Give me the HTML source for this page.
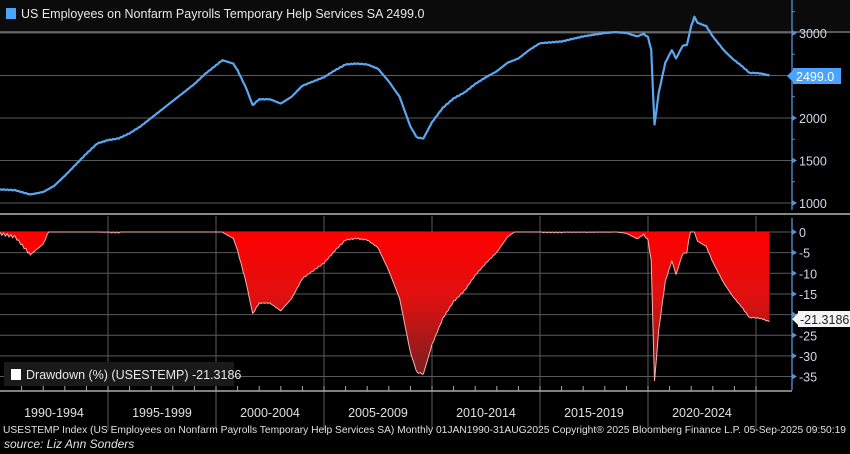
<!DOCTYPE html>
<html><head><meta charset="utf-8"><style>
html,body{margin:0;padding:0;background:#000;width:850px;height:454px;overflow:hidden;font-family:"Liberation Sans",sans-serif}
svg{position:absolute;left:0;top:0}
</style></head><body>
<svg id="s" width="850" height="454" xmlns="http://www.w3.org/2000/svg">
<defs>
<linearGradient id="rg" x1="0" y1="232" x2="0" y2="376" gradientUnits="userSpaceOnUse">
<stop offset="0" stop-color="#ff0000"/><stop offset="0.45" stop-color="#e01010"/><stop offset="1" stop-color="#7a2020"/>
</linearGradient>
</defs>
<rect x="0" y="0" width="850" height="31" fill="#0b0b0b"/>
<rect x="6" y="8" width="10" height="11" fill="#4aa3ff"/>
<text x="21" y="18" fill="#e8e8e8" font-size="12.5">US Employees on Nonfarm Payrolls Temporary Help Services SA 2499.0</text>
<line x1="0" y1="32" x2="850" y2="32" stroke="#777" stroke-width="1.5"/>
<g id="grid" stroke="#5a5a5a" stroke-width="1"></g>
<g id="data"></g>
<line x1="0" y1="214" x2="850" y2="214" stroke="#888" stroke-width="2"/>
<line x1="792" y1="0" x2="792" y2="210" stroke="#5b8fd6" stroke-width="1.3"/>
<line x1="792" y1="218" x2="792" y2="390" stroke="#5b8fd6" stroke-width="1.3"/>
<line x1="0" y1="391" x2="792" y2="391" stroke="#aaa" stroke-width="1.5"/>
<g id="ticks" fill="#cfd8e8" font-size="12.5"></g>
<rect x="793" y="68" width="48" height="16" fill="#4aa3ff"/>
<polygon points="793,70 787,76 793,82" fill="#4aa3ff"/>
<text x="796" y="81" fill="#fff" font-size="12.5">2499.0</text>
<rect x="798" y="311" width="52" height="16" fill="#f4f4f4"/>
<polygon points="798,313 792,319 798,325" fill="#f4f4f4"/>
<text x="800" y="324" fill="#222" font-size="12.5">-21.3186</text>
<rect x="4" y="362" width="230" height="24" fill="#1a1a1a"/>
<rect x="11" y="369" width="10" height="11" fill="#fff"/>
<text x="26" y="379" fill="#e8e8e8" font-size="12.5">Drawdown (%) (USESTEMP) -21.3186</text>
<g fill="#e0e0e0" font-size="12.5" text-anchor="middle">
<text x="54" y="417">1990-1994</text><text x="162" y="417">1995-1999</text><text x="270" y="417">2000-2004</text>
<text x="378" y="417">2005-2009</text><text x="486" y="417">2010-2014</text><text x="594" y="417">2015-2019</text><text x="702" y="417">2020-2024</text>
</g>
<text x="3" y="433" fill="#e0e0e0" font-size="10" textLength="843" lengthAdjust="spacingAndGlyphs">USESTEMP Index (US Employees on Nonfarm Payrolls Temporary Help Services SA)  Monthly 01JAN1990-31AUG2025 Copyright® 2025 Bloomberg Finance L.P. 05-Sep-2025 09:50:19</text>
<text x="4" y="448" fill="#e0e0e0" font-size="12" font-style="italic">source: Liz Ann Sonders</text>
</svg>
<script>
var NS="http://www.w3.org/2000/svg";
function el(p,t,a){var e=document.createElementNS(NS,t);for(var k in a)e.setAttribute(k,a[k]);p.appendChild(e);return e;}
var G=document.getElementById('grid'),D=document.getElementById('data'),T=document.getElementById('ticks');
function X(y){return (y-1990)*21.6;}
function Y1(v){return 33+(3000-v)*0.085;}
function Y2(d){return 232-d*4.13;}
[3000,2500,2000,1500,1000].forEach(function(v){el(G,'line',{x1:0,x2:792,y1:Y1(v),y2:Y1(v)});});
for(var d=0;d>=-35;d-=5)el(G,'line',{x1:0,x2:792,y1:Y2(d),y2:Y2(d)});
for(var yr=1995;yr<=2025;yr+=5)el(G,'line',{x1:X(yr),x2:X(yr),y1:216,y2:430});
[3000,2000,1500,1000].forEach(function(v){var y=Y1(v);el(T,'polygon',{points:"792,"+(y-3)+" 797,"+y+" 792,"+(y+3),fill:"#5b8fd6"});var t=el(T,'text',{x:799,y:y+5});t.textContent=v;});
for(var d=0;d>=-35;d-=5){var y=Y2(d);el(T,'polygon',{points:"792,"+(y-3)+" 797,"+y+" 792,"+(y+3),fill:"#5b8fd6"});if(d!=-20){var t=el(T,'text',{x:799,y:y+5});t.textContent=(d==0?"0":d);}}
for(var v=1000;v<=3250;v+=250){el(T,'line',{x1:792,x2:795,y1:Y1(v),y2:Y1(v),stroke:"#5b8fd6"});}
for(var yr=1991;yr<=2025;yr++){el(T,'line',{x1:X(yr),x2:X(yr),y1:386,y2:391,stroke:"#aaa"});}
var K=[[1990,1160],[1990.7,1150],[1991.4,1100],[1992,1130],[1992.5,1200],[1993,1320],[1993.5,1450],[1994,1580],[1994.5,1700],[1995,1740],[1995.5,1760],[1996,1820],[1996.5,1900],[1997,2000],[1997.5,2100],[1998,2200],[1998.5,2300],[1999,2400],[1999.5,2520],[2000,2620],[2000.3,2680],[2000.8,2640],[2001,2560],[2001.4,2350],[2001.7,2150],[2002,2220],[2002.5,2220],[2003,2170],[2003.5,2250],[2004,2380],[2004.5,2430],[2005,2480],[2005.5,2560],[2006,2630],[2006.5,2640],[2007,2630],[2007.5,2580],[2008,2430],[2008.5,2250],[2009,1900],[2009.3,1770],[2009.6,1760],[2010,1950],[2010.5,2120],[2011,2230],[2011.5,2300],[2012,2400],[2012.5,2480],[2013,2550],[2013.5,2650],[2014,2700],[2014.5,2800],[2015,2880],[2015.5,2890],[2016,2900],[2016.5,2930],[2017,2960],[2017.5,2980],[2018,3000],[2018.5,3010],[2019,3000],[2019.5,2960],[2019.8,2990],[2020,2950],[2020.15,2800],[2020.3,1920],[2020.5,2300],[2020.8,2650],[2021.1,2800],[2021.3,2700],[2021.6,2850],[2021.8,2860],[2022,3080],[2022.15,3190],[2022.3,3120],[2022.7,3080],[2023,2960],[2023.5,2800],[2023.9,2700],[2024.3,2620],[2024.7,2530],[2025,2530],[2025.3,2520],[2025.62,2499]];
var pts=[];
for(var i=0;i<K.length-1;i++){var a=K[i],b=K[i+1];for(var t=a[0];t<b[0]-1e-6;t+=1/12){var f=(t-a[0])/(b[0]-a[0]);var v=a[1]+(b[1]-a[1])*f+Math.sin(t*37.1)*4;pts.push([t,v]);}}
pts.push(K[K.length-1]);
var l="",mx=0,dd=[];
pts.forEach(function(p,i){l+=(i?"L":"M")+X(p[0]).toFixed(1)+","+Y1(p[1]).toFixed(1);mx=Math.max(mx,p[1]);dd.push([p[0],(p[1]/mx-1)*100]);});
var f="M0,"+Y2(0),ln="";
dd.forEach(function(p,i){f+="L"+X(p[0]).toFixed(1)+","+Y2(p[1]).toFixed(1);ln+=(i?"L":"M")+X(p[0]).toFixed(1)+","+Y2(p[1]).toFixed(1);});
f+="L"+X(dd[dd.length-1][0]).toFixed(1)+","+Y2(0)+"Z";
el(D,'path',{d:f,fill:"url(#rg)"});
el(D,'path',{d:ln,fill:"none",stroke:"#f4b0b0","stroke-width":1});
el(D,'path',{d:l,fill:"none",stroke:"#5aa7f0","stroke-width":2.2,"stroke-linejoin":"round"});
</script>
</body></html>
